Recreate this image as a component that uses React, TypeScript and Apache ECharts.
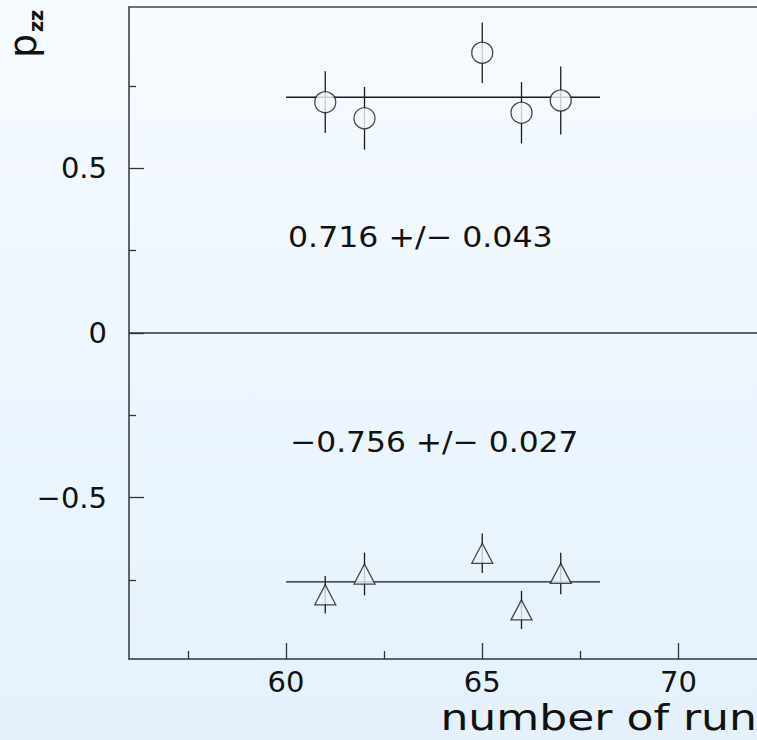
import React, { useEffect, useRef } from "react";
import * as echarts from "echarts";

// Run numbers (x) and measured p_zz values with errors
const runs = [61, 62, 65, 66, 67];
const pzzUpper = [0.701, 0.652, 0.851, 0.669, 0.706];
const errUpper = [0.094, 0.095, 0.092, 0.093, 0.103];
const pzzLower = [-0.795, -0.732, -0.669, -0.841, -0.73];
const errLower = [0.057, 0.065, 0.06, 0.058, 0.063];

// Fit results (constant fits over runs 60..68)
const fitRange = [60, 68];
const fitUpper = 0.716;
const fitUpperErr = 0.043;
const fitLower = -0.756;
const fitLowerErr = 0.027;

// Axis ticks
const xMajorTicks = [60, 65, 70];
const xMinorTicks = [57.5, 62.5, 67.5];
const yMajorTicks = [-0.5, 0, 0.5];
const yMinorTicks = [-0.75, -0.25, 0.25, 0.75];
const xRange = [56, 72];
const yRange = [-0.99, 0.99];

const FONT = '"DejaVu Sans", "Liberation Sans", sans-serif';
const AXIS_COLOR = "#333";
const MARK_COLOR = "#1a1a1a";

const fmtNum = (v: number) => (v < 0 ? "\u2212" + Math.abs(v) : String(v));
const fmtFit = (v: number) => (v < 0 ? "\u2212" + Math.abs(v).toFixed(3) : v.toFixed(3));

export default function App() {
  const ref = useRef<HTMLDivElement>(null);

  useEffect(() => {
    if (!ref.current) return;
    const chart = echarts.init(ref.current, null, { renderer: "svg" });

    const upperData = runs.map((r, i) => [r, pzzUpper[i], errUpper[i]]);
    const lowerData = runs.map((r, i) => [r, pzzLower[i], errLower[i]]);

    const errRender = (params: any, api: any) => {
      const x = api.value(0);
      const y = api.value(1);
      const e = api.value(2);
      const p1 = api.coord([x, y + e]);
      const p2 = api.coord([x, y - e]);
      return {
        type: "line",
        shape: { x1: p1[0], y1: p1[1], x2: p2[0], y2: p2[1] },
        style: { stroke: MARK_COLOR, lineWidth: 1.3 },
      };
    };

    const baseX = {
      type: "value",
      min: xRange[0],
      max: xRange[1],
      position: "bottom",
      splitLine: { show: false },
    };
    const baseY = {
      type: "value",
      min: yRange[0],
      max: yRange[1],
      position: "left",
      splitLine: { show: false },
    };

    chart.setOption({
      animation: false,
      backgroundColor: "transparent",
      grid: {
        left: 129,
        top: 7,
        right: -3,
        bottom: 81,
        show: false,
      },
      xAxis: [
        {
          ...baseX,
          axisLine: { show: true, onZero: false, lineStyle: { color: AXIS_COLOR, width: 1.5 } },
          axisTick: {
            show: true,
            inside: true,
            length: 16,
            customValues: xMajorTicks,
            lineStyle: { color: AXIS_COLOR, width: 1.3 },
          },
          axisLabel: {
            show: true,
            customValues: xMajorTicks,
            margin: 8,
            fontFamily: FONT,
            fontSize: 29,
            color: "#111",
            formatter: (v: number) => fmtNum(v),
          },
        },
        {
          ...baseX,
          axisLine: { show: false, onZero: false },
          axisTick: {
            show: true,
            inside: true,
            length: 8,
            customValues: xMinorTicks,
            lineStyle: { color: AXIS_COLOR, width: 1.3 },
          },
          axisLabel: { show: false },
        },
        {
          ...baseX,
          position: "top",
          axisLine: { show: true, onZero: false, lineStyle: { color: "#444", width: 1.5 } },
          axisTick: { show: false },
          axisLabel: { show: false },
        },
      ],
      yAxis: [
        {
          ...baseY,
          axisLine: { show: true, onZero: false, lineStyle: { color: AXIS_COLOR, width: 1.5 } },
          axisTick: {
            show: true,
            inside: true,
            length: 15,
            customValues: yMajorTicks,
            lineStyle: { color: AXIS_COLOR, width: 1.3 },
          },
          axisLabel: {
            show: true,
            customValues: yMajorTicks,
            margin: 22,
            fontFamily: FONT,
            fontSize: 29,
            color: "#111",
            formatter: (v: number) => fmtNum(v),
          },
        },
        {
          ...baseY,
          axisLine: { show: false, onZero: false },
          axisTick: {
            show: true,
            inside: true,
            length: 7,
            customValues: yMinorTicks,
            lineStyle: { color: AXIS_COLOR, width: 1.3 },
          },
          axisLabel: { show: false },
        },
      ],
      series: [
        {
          type: "line",
          data: [
            [xRange[0], 0],
            [xRange[1], 0],
          ],
          symbol: "none",
          lineStyle: { color: "#333", width: 1.3 },
          silent: true,
        },
        {
          type: "line",
          data: [
            [fitRange[0], fitUpper],
            [fitRange[1], fitUpper],
          ],
          symbol: "none",
          lineStyle: { color: MARK_COLOR, width: 1.3 },
          silent: true,
        },
        {
          type: "line",
          data: [
            [fitRange[0], fitLower],
            [fitRange[1], fitLower],
          ],
          symbol: "none",
          lineStyle: { color: MARK_COLOR, width: 1.3 },
          silent: true,
        },
        {
          type: "custom",
          data: upperData,
          renderItem: errRender,
          silent: true,
        },
        {
          type: "custom",
          data: lowerData,
          renderItem: errRender,
          silent: true,
        },
        {
          type: "scatter",
          data: upperData.map((d) => [d[0], d[1]]),
          symbol: "circle",
          symbolSize: 21,
          itemStyle: { color: "#f4f9fe", borderColor: MARK_COLOR, borderWidth: 1.3 },
          silent: true,
          z: 5,
        },
        {
          type: "scatter",
          data: lowerData.map((d) => [d[0], d[1]]),
          symbol: "triangle",
          symbolSize: [21, 20],
          itemStyle: { color: "#e9f4fd", borderColor: MARK_COLOR, borderWidth: 1.3 },
          silent: true,
          z: 5,
        },
      ],
      graphic: [
        {
          type: "text",
          x: 288,
          y: 237,
          scaleX: 1.09,
          style: {
            text: `${fmtFit(fitUpper)} +/\u2212 ${fmtFit(fitUpperErr)}`,
            font: `29px ${FONT}`,
            fill: "#111",
            align: "left",
            verticalAlign: "middle",
          },
        },
        {
          type: "text",
          x: 290,
          y: 442,
          scaleX: 1.08,
          style: {
            text: `${fmtFit(fitLower)} +/\u2212 ${fmtFit(fitLowerErr)}`,
            font: `29px ${FONT}`,
            fill: "#111",
            align: "left",
            verticalAlign: "middle",
          },
        },
        {
          type: "text",
          x: 757,
          y: 718,
          scaleX: 1.26,
          style: {
            text: "number of run",
            font: `35px ${FONT}`,
            fill: "#111",
            align: "right",
            verticalAlign: "middle",
          },
        },
        {
          type: "text",
          x: 23,
          y: 46,
          rotation: Math.PI / 2,
          style: {
            text: "p",
            font: `38px ${FONT}`,
            fill: "#111",
            align: "center",
            verticalAlign: "middle",
          },
        },
        {
          type: "text",
          x: 36,
          y: 21,
          rotation: Math.PI / 2,
          style: {
            text: "zz",
            font: `bold 19px ${FONT}`,
            fill: "#111",
            align: "center",
            verticalAlign: "middle",
          },
        },
      ],
    });

    return () => chart.dispose();
  }, []);

  return (
    <div
      ref={ref}
      style={{
        position: "fixed",
        left: 0,
        top: 0,
        width: 757,
        height: 740,
        background: "linear-gradient(to bottom, #f6fbff 0%, #e4f1fc 100%)",
      }}
    />
  );
}
